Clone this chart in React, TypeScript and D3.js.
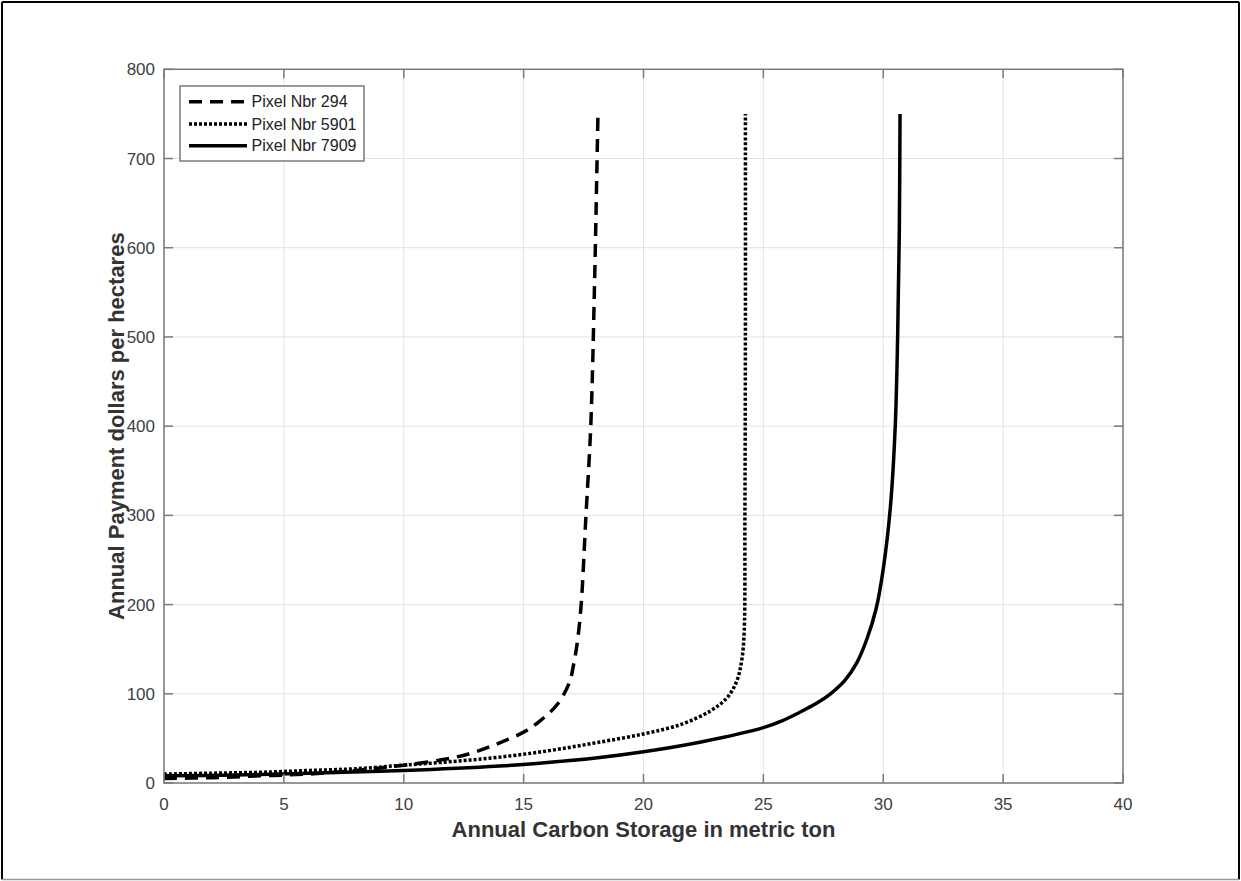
import React from "react";
import * as d3 from "d3";

const seriesNames = ["Pixel Nbr 294", "Pixel Nbr 5901", "Pixel Nbr 7909"];

const pixel294X = [0, 2, 4, 6, 8, 10, 12, 13, 14, 15, 15.7, 16.4, 16.9, 17.1, 17.25, 17.4, 17.6, 17.8, 17.95, 18.05, 18.1];
const pixel294Y = [5, 6, 8, 10, 14, 20, 28, 35, 45, 57, 70, 88, 112, 135, 160, 200, 300, 400, 550, 680, 750];

const pixel5901X = [0, 2, 4, 6, 8, 10, 12, 14, 16, 18, 20, 21.6, 22.8, 23.5, 23.9, 24.1, 24.2, 24.23, 24.25, 24.25];
const pixel5901Y = [10, 11, 12, 14, 16, 20, 24, 29, 36, 45, 55, 66, 81, 96, 115, 138, 170, 300, 500, 750];

const pixel7909X = [0, 3, 6, 10, 14, 16, 18, 20, 22.4, 25, 25.8, 26.5, 27.2, 27.8, 28.4, 28.9, 29.3, 29.7, 30.0, 30.3, 30.5, 30.6, 30.67, 30.7];
const pixel7909Y = [8, 9, 11, 14, 19, 23, 28, 35, 46, 62, 70, 79, 89, 100, 115, 135, 160, 195, 240, 310, 400, 500, 620, 750];

const xTicks = [0, 5, 10, 15, 20, 25, 30, 35, 40];
const yTicks = [0, 100, 200, 300, 400, 500, 600, 700, 800];

const FONT = "'Liberation Sans', Arial, Helvetica, sans-serif";

export default function App() {
  const W = 1241, H = 881;
  const left = 164, right = 1123, top = 69.3, bottom = 783;
  const x = d3.scaleLinear().domain([0, 40]).range([left, right]);
  const y = d3.scaleLinear().domain([0, 800]).range([bottom, top]);

  const series = [
    { name: seriesNames[0], xs: pixel294X, ys: pixel294Y, dash: "13,8", width: 3.5 },
    { name: seriesNames[1], xs: pixel5901X, ys: pixel5901Y, dash: "3,2", width: 3.5 },
    { name: seriesNames[2], xs: pixel7909X, ys: pixel7909Y, dash: "none", width: 3.5 },
  ];

  const line = d3
    .line<[number, number]>()
    .x((d) => x(d[0]))
    .y((d) => y(d[1]))
    .curve(d3.curveCatmullRom.alpha(0.5));

  const tickLen = 9;
  const axisColor = "#7a7a7a";
  const gridColor = "#e3e3e3";
  const tickText = "#404040";

  const lg = { x: 180, y: 86, w: 184, h: 75 };
  const rows = [101.7, 124, 145.7];

  return (
    <svg width={W} height={H} style={{ position: "absolute", left: 0, top: 0, background: "#fff" }}>
      <rect x={0} y={0} width={W} height={H} fill="#fff" />
      <line x1={2} y1={2} x2={1239} y2={2} stroke="#000" strokeWidth={2} />
      <line x1={2} y1={2} x2={2} y2={879.5} stroke="#000" strokeWidth={2} />
      <line x1={1239} y1={2} x2={1239} y2={879.5} stroke="#000" strokeWidth={2} />
      <line x1={2} y1={879.5} x2={1239} y2={879.5} stroke="#999" strokeWidth={1.5} />

      {xTicks.map((t) => (
        <line key={"gx" + t} x1={x(t)} x2={x(t)} y1={top} y2={bottom} stroke={gridColor} strokeWidth={1} />
      ))}
      {yTicks.map((t) => (
        <line key={"gy" + t} x1={left} x2={right} y1={y(t)} y2={y(t)} stroke={gridColor} strokeWidth={1} />
      ))}

      {series.map((s) => (
        <path
          key={s.name}
          d={line(s.xs.map((v, i) => [v, s.ys[i]] as [number, number])) || ""}
          fill="none"
          stroke="#000"
          strokeWidth={s.width}
          strokeDasharray={s.dash}
        />
      ))}

      <rect x={left} y={top} width={right - left} height={bottom - top} fill="none" stroke={axisColor} strokeWidth={1.5} />
      {xTicks.map((t) => (
        <g key={"tx" + t}>
          <line x1={x(t)} x2={x(t)} y1={bottom} y2={bottom - tickLen} stroke={axisColor} strokeWidth={1.5} />
          <line x1={x(t)} x2={x(t)} y1={top} y2={top + tickLen} stroke={axisColor} strokeWidth={1.5} />
          <text x={x(t)} y={810} textAnchor="middle" fontFamily={FONT} fontSize={17} fill={tickText}>
            {t}
          </text>
        </g>
      ))}
      {yTicks.map((t) => (
        <g key={"ty" + t}>
          <line x1={left} x2={left + tickLen} y1={y(t)} y2={y(t)} stroke={axisColor} strokeWidth={1.5} />
          <line x1={right} x2={right - tickLen} y1={y(t)} y2={y(t)} stroke={axisColor} strokeWidth={1.5} />
          <text x={155} y={y(t) + 6} textAnchor="end" fontFamily={FONT} fontSize={17} fill={tickText}>
            {t}
          </text>
        </g>
      ))}

      <text x={(left + right) / 2} y={837} textAnchor="middle" fontFamily={FONT} fontSize={22} fontWeight="bold" fill="#333">
        Annual Carbon Storage in metric ton
      </text>
      <text
        transform={`translate(124,${(top + bottom) / 2}) rotate(-90)`}
        textAnchor="middle"
        fontFamily={FONT}
        fontSize={22}
        fontWeight="bold"
        fill="#333"
      >
        Annual Payment dollars per hectares
      </text>

      <rect x={lg.x} y={lg.y} width={lg.w} height={lg.h} fill="#fff" stroke={axisColor} strokeWidth={1.5} />
      {series.map((s, i) => (
        <g key={"lg" + i}>
          <line x1={189} x2={247} y1={rows[i]} y2={rows[i]} stroke="#000" strokeWidth={s.width} strokeDasharray={s.dash} />
          <text x={251.5} y={rows[i] + 5.5} fontFamily={FONT} fontSize={16} fill="#222">
            {s.name}
          </text>
        </g>
      ))}
    </svg>
  );
}
